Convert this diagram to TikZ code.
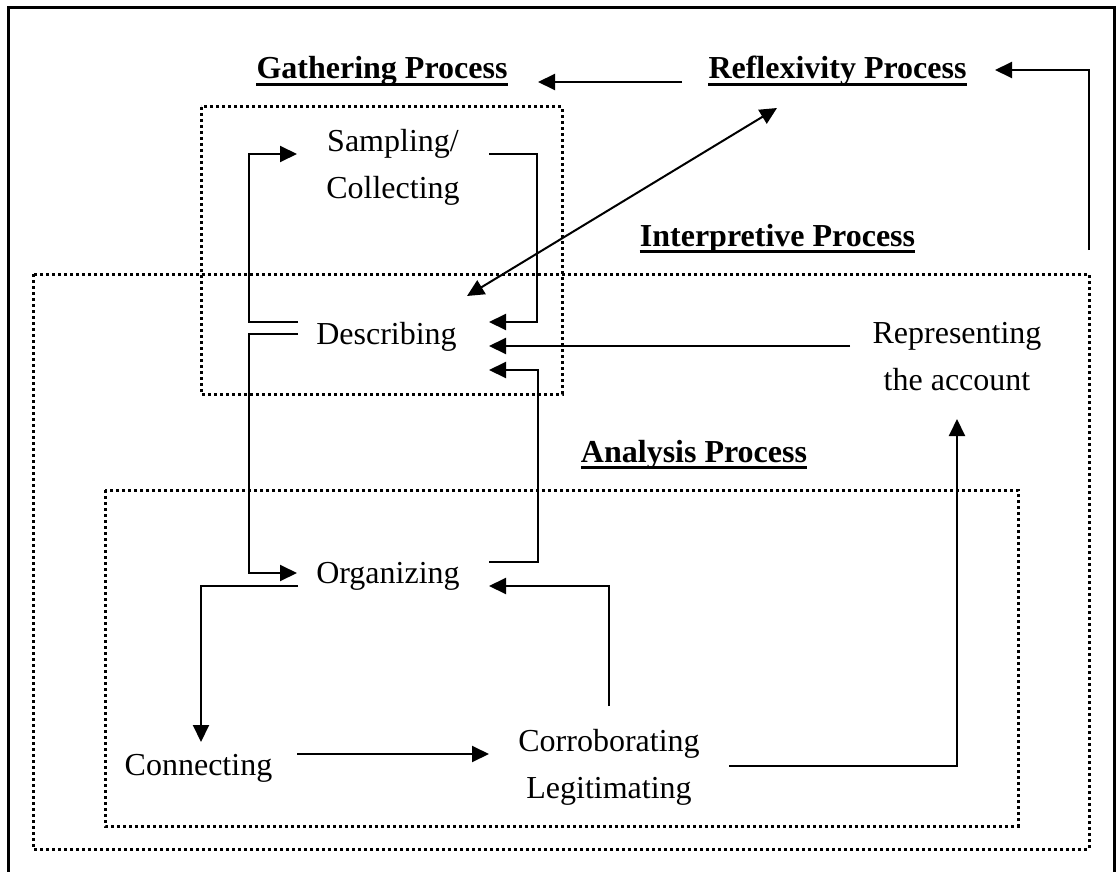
\documentclass[tikz,border=0pt]{standalone}
\usepackage{fontspec}
\setmainfont{Liberation Serif}
\usetikzlibrary{arrows.meta,calc}

\begin{document}
\begin{tikzpicture}[
  x=1pt, y=-1pt,
  label text/.style={inner sep=0pt, anchor=base, font=\fontsize{32}{47}\selectfont},
  heading/.style={label text, font=\fontsize{32}{47}\selectfont\bfseries},
  head rule/.style={line width=3pt},
  frame line/.style={line width=3pt},
  zone/.style={line width=3pt, dash pattern=on 3pt off 3pt},
  conn/.style={line width=2pt, -{Triangle[length=17pt,width=16pt]}},
  bothconn/.style={line width=2pt, {Triangle[length=17pt,width=16pt]}-{Triangle[length=17pt,width=16pt]}}
]
\useasboundingbox (0,0) rectangle (1117,872);

% outer frame (open at the bottom edge of the page)
\draw[frame line] (8,880) -- (8,8) -- (1114,8) -- (1114,880);

% process zones
\draw[zone] (201,107) rectangle (562,394);
\draw[zone] (33,274) rectangle (1089,849);
\draw[zone] (105,490) rectangle (1018,826);

% headings
\node[heading] (gath)   at (382,79)    {Gathering Process};
\node[heading] (refl)   at (837.5,79)  {Reflexivity Process};
\node[heading] (interp) at (777.5,246) {Interpretive Process};
\node[heading] (anal)   at (694,462)   {Analysis Process};
\foreach \h in {gath,refl,interp,anal}
  \draw[head rule] ($(\h.base west)+(0,5.5)$) -- ($(\h.base east)+(0,5.5)$);

% steps
\node[label text] (samp) at (393,152)
  {\begin{tabular}[t]{@{}c@{}}Sampling/\\Collecting\end{tabular}};
\node[label text] (desc) at (386.5,344) {Describing};
\node[label text] (repr) at (957,343)
  {\begin{tabular}[t]{@{}c@{}}Representing\\the account\end{tabular}};
\node[label text] (org)  at (388,583) {Organizing};
\node[label text] (conn) at (198.5,775) {Connecting};
\node[label text] (corr) at (609,751)
  {\begin{tabular}[t]{@{}c@{}}Corroborating\\Legitimating\end{tabular}};

% reflexivity links
\draw[conn] ($(refl.base)+(-155.5,3)$) -- ($(gath.base)+(156,3)$);
\coordinate (rtail) at ($(interp.base)+(311.5,4)$);
\draw[conn] (rtail) |- ($(refl.base)+(157.5,-9)$);
\draw[bothconn] ($(desc.base)+(80.5,-48)$) -- ($(refl.base)+(-60.5,29)$);

% gathering loop
\draw[conn] ($(desc.base)+(-88.5,-22)$) -- ++(-49,0) |- ($(samp.base)+(-96,2)$);
\draw[conn] ($(samp.base)+(96,2)$) -- ++(48,0) |- ($(desc.base)+(102.5,-22)$);

% describing <-> organizing
\draw[conn] ($(desc.base)+(-88.5,-10)$) -- ++(-49,0) |- ($(org.base)+(-91,-10)$);
\draw[conn] ($(org.base)+(101,-21)$) -- ++(49,0) |- ($(desc.base)+(102.5,26)$);

% representing feeds back to describing
\draw[conn] ($(repr.base)+(-107,3)$) -- ($(desc.base)+(102.5,2)$);

% analysis cycle
\draw[conn] ($(org.base)+(-90,3)$) -| ($(conn.base)+(2.5,-33)$);
\draw[conn] ($(conn.base)+(98.5,-21)$) -- ($(corr.base)+(-120,3)$);
\draw[conn] ($(corr.base)+(0,-45)$) |- ($(org.base)+(101,3)$);
\draw[conn] ($(corr.base)+(120,15)$) -| ($(repr.base)+(0,76)$);
\end{tikzpicture}
\end{document}
